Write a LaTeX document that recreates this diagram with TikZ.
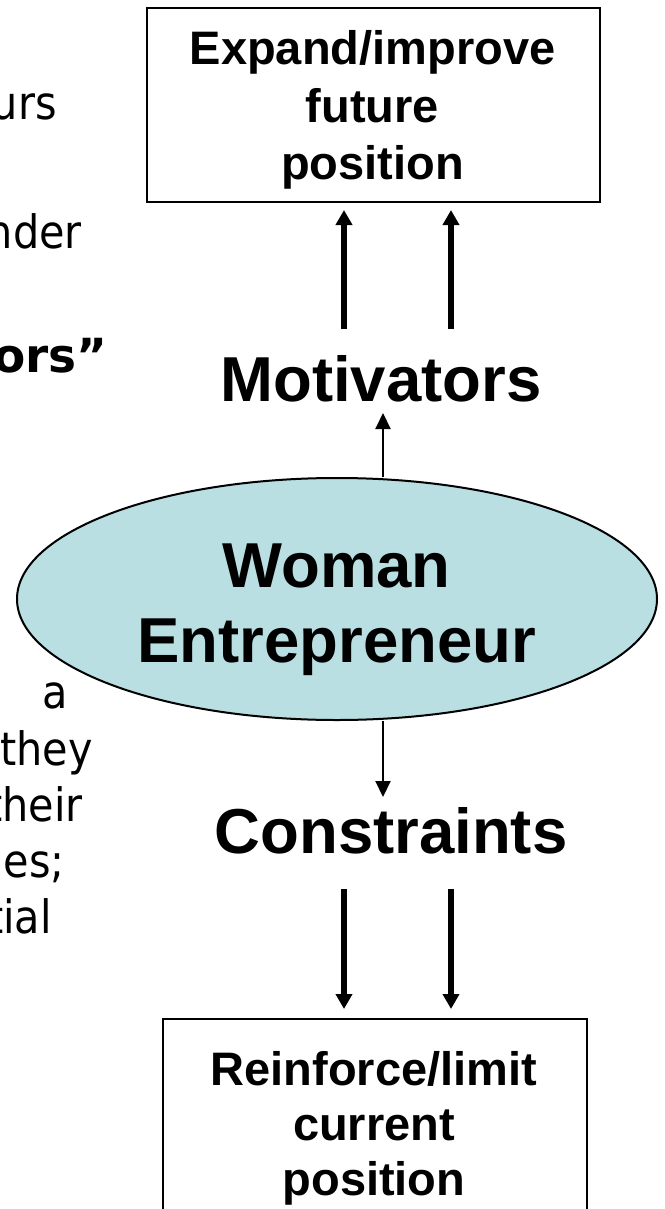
\documentclass[tikz,border=0pt]{standalone}
\usepackage{fontspec}
\setmainfont{Liberation Sans}
\newfontfamily\verd[FakeStretch=0.9]{DejaVu Sans}
\newfontfamily\verdb{DejaVu Sans}
\usetikzlibrary{arrows.meta,shapes.geometric}
\definecolor{eblue}{RGB}{185,223,227}
\begin{document}
\begin{tikzpicture}[x=1pt,y=-1pt,
  lbl/.style={anchor=base,inner sep=0pt,font=\fontsize{47}{56}\selectfont\bfseries},
  big/.style={anchor=base,inner sep=0pt,font=\fontsize{63.5}{76}\selectfont\bfseries},
  side/.style={anchor=base east,inner sep=0pt,font=\fontsize{46}{56}\selectfont\verd},
  box/.style={draw,line width=2pt,rectangle,inner sep=0pt},
  thickarrow/.style={line width=5.3pt,-{Triangle[width=16pt,length=15pt]}},
  thinarrow/.style={line width=2pt,-{Triangle[width=15pt,length=16pt]}},
]
\useasboundingbox (0,0) rectangle (664,1209);
\clip (0,0) rectangle (664,1209);

% left text fragments
\node[side] (s1) at (57,120) {urs};
\node[side] (s2) at (82,248) {nder};
\node[side,font=\fontsize{47}{56}\selectfont\verdb\bfseries] (s3) at (108,372) {ors”};
\node[side] (s4) at (68,708) {a};
\node[side] (s5) at (93,765) {they};
\node[side] (s6) at (83,821) {their};
\node[side] (s7) at (65,877) {es;};
\node[side] (s8) at (52,933) {tial};

% top box
\node[box,minimum width=453pt,minimum height=194pt] (top) at (373.5,105) {};
\node[lbl] (t1) at (372.5,65) {Expand/improve};
\node[lbl] (t2) at (372.5,123) {future};
\node[lbl] (t3) at (372.5,180) {position};

% motivators
\node[big] (mot) at (381,401) {Motivators};

% ellipse
\node[draw,ellipse,fill=eblue,line width=2pt,minimum width=640pt,minimum height=242pt,inner sep=0pt] (we) at (337,599) {};
\node[big] (w1) at (336.5,587) {Woman};
\node[big] (w2) at (337,662) {Entrepreneur};

% constraints
\node[big] (con) at (391,853) {Constraints};

% bottom box
\node[box,minimum width=424pt,minimum height=221pt] (bot) at (375,1129.5) {};
\node[lbl] (b1) at (374,1085) {Reinforce/limit};
\node[lbl] (b2) at (374,1140) {current};
\node[lbl] (b3) at (374,1195) {position};

% arrows
\coordinate (ua1) at (344,329);
\coordinate (ua2) at (451,329);
\draw[thickarrow,shorten >=7pt] (ua1) -- (top.south -| ua1);
\draw[thickarrow,shorten >=7pt] (ua2) -- (top.south -| ua2);

\coordinate (mtip) at (383,413);
\draw[thinarrow] (we.north -| mtip) -- (mtip);

\coordinate (ctip) at (383,797);
\draw[thinarrow] (we.south -| ctip) -- (ctip);

\coordinate (la1) at (344,889);
\coordinate (la2) at (451,889);
\draw[thickarrow,shorten >=9pt] (la1) -- (bot.north -| la1);
\draw[thickarrow,shorten >=9pt] (la2) -- (bot.north -| la2);
\end{tikzpicture}
\end{document}
